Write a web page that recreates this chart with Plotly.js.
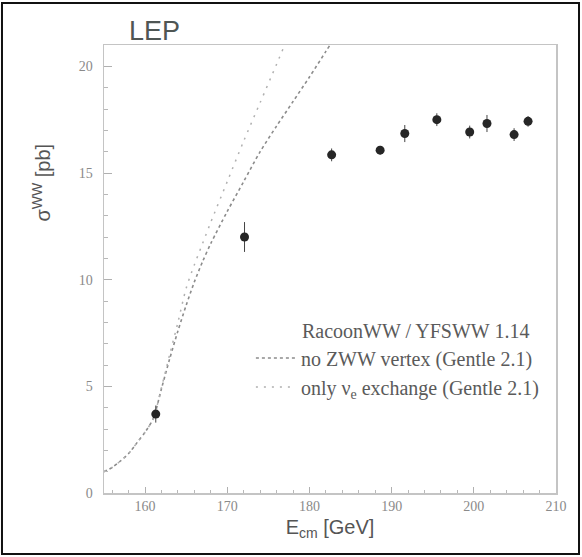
<!DOCTYPE html>
<html>
<head>
<meta charset="utf-8">
<script src="https://cdn.plot.ly/plotly-3.0.1.min.js"></script>
<style>html,body{margin:0;padding:0;background:#fff;}#chart{width:582px;height:557px;}</style>
</head>
<body>
<div id="chart"></div>
<script>
// LEP measured WW cross-section
const dataE     = [161.3, 172.1, 182.7, 188.6, 191.6, 195.5, 199.5, 201.6, 204.9, 206.6];
const dataSigma = [3.7, 12.0, 15.85, 16.07, 16.85, 17.5, 16.92, 17.32, 16.8, 17.42];
const dataErr   = [0.4, 0.7, 0.3, 0.2, 0.4, 0.3, 0.3, 0.4, 0.3, 0.25];

// Gentle 2.1: no ZWW vertex
const noZwwE     = [155, 156, 157, 158, 159, 160, 161, 162, 163, 164, 165, 166, 167, 168, 170, 172, 174, 176, 178, 180, 182, 183];
const noZwwSigma = [1.0, 1.2, 1.5, 1.85, 2.35, 2.85, 3.5, 4.9, 6.3, 7.6, 8.8, 9.9, 10.85, 11.7, 13.2, 14.6, 16.0, 17.2, 18.35, 19.5, 20.7, 21.3];

// Gentle 2.1: only nu_e exchange
const nuEE     = [155, 156, 157, 158, 159, 160, 161, 162, 163, 164, 165, 166, 167, 168, 170, 172, 174, 176, 177.2];
const nuESigma = [1.0, 1.2, 1.5, 1.85, 2.35, 2.85, 3.5, 4.95, 6.5, 8.0, 9.6, 10.7, 11.7, 12.7, 14.6, 16.5, 18.3, 20.1, 21.2];

// legend texts
const legendHeader = 'RacoonWW / YFSWW 1.14';
const nameNoZww = 'no ZWW vertex (Gentle 2.1)';
const nameNuE = 'only ν<sub>e</sub> exchange (Gentle 2.1)';

const xTickVals = [160, 170, 180, 190, 200, 210];
const yTickVals = [0, 5, 10, 15, 20];

const serif = '"Liberation Serif", "DejaVu Serif", serif';
const sans = '"Liberation Sans", Arial, sans-serif';

const traces = [
  {
    x: noZwwE, y: noZwwSigma, type: 'scatter', mode: 'lines',
    name: nameNoZww,
    line: {color: '#8c8c8c', width: 1.6, dash: 'dot', shape: 'spline', smoothing: 0.8}
  },
  {
    x: nuEE, y: nuESigma, type: 'scatter', mode: 'lines',
    name: nameNuE,
    line: {color: '#b0b0b0', width: 1.5, dash: '2px,6px', shape: 'spline', smoothing: 0.8}
  },
  {
    x: dataE, y: dataSigma, type: 'scatter', mode: 'markers',
    name: 'LEP', showlegend: false,
    marker: {color: '#262626', size: 9},
    error_y: {type: 'data', array: dataErr, visible: true, color: '#444', thickness: 1, width: 0}
  }
];

const axisCommon = {
  showgrid: false, zeroline: false,
  showline: true, linecolor: '#c4c4c4', linewidth: 1.5, mirror: true,
  ticks: 'inside', tickcolor: '#b0b0b0', tickwidth: 1,
  tickfont: {family: serif, size: 14, color: '#8a8a8a'}
};

const layout = {
  width: 582, height: 557,
  margin: {l: 104, r: 26, t: 45, b: 64},
  paper_bgcolor: '#ffffff', plot_bgcolor: '#ffffff',
  showlegend: true,
  legend: {
    x: 0.325, y: 0.345, xanchor: 'left', yanchor: 'top',
    bgcolor: 'rgba(0,0,0,0)', borderwidth: 0,
    itemwidth: 40,
    font: {family: serif, size: 20, color: '#5a5a5a'}
  },
  xaxis: Object.assign({}, axisCommon, {
    range: [155, 210], tickvals: xTickVals, ticklen: 6,
    minor: {dtick: 2, ticks: 'inside', ticklen: 3, tickcolor: '#b8b8b8'},
    ticklabelstandoff: 0,
    title: {text: 'E<sub>cm</sub> [GeV]', standoff: 6,
            font: {family: sans, size: 20, color: '#555'}}
  }),
  yaxis: Object.assign({}, axisCommon, {
    range: [0, 21], tickvals: yTickVals, ticklen: 8,
    minor: {dtick: 1, ticks: 'inside', ticklen: 4, tickcolor: '#b8b8b8'},
    ticklabelstandoff: 7
  }),
  annotations: [
    {text: 'LEP', xref: 'paper', yref: 'paper', x: 0.05, y: 1.031,
     xanchor: 'left', yanchor: 'middle', showarrow: false,
     font: {family: sans, size: 27, color: '#4f5654'}},
    {text: 'σ<sup>WW</sup> [pb]', xref: 'paper', yref: 'paper', x: -0.138, y: 0.692,
     xanchor: 'center', yanchor: 'middle', textangle: -90, showarrow: false,
     font: {family: sans, size: 20, color: '#555'}},
    {text: legendHeader, xref: 'paper', yref: 'paper', x: 0.4336, y: 0.3616,
     xanchor: 'left', yanchor: 'middle', showarrow: false,
     font: {family: serif, size: 20, color: '#5a5a5a'}}
  ],
  shapes: [
    {type: 'rect', xref: 'paper', yref: 'paper',
     x0: -0.2257, x1: 1.0509, y0: -0.1362, y1: 1.0938,
     line: {color: '#111', width: 2}, fillcolor: 'rgba(0,0,0,0)'}
  ]
};

Plotly.newPlot('chart', traces, layout, {displayModeBar: false, staticPlot: true});
</script>
</body>
</html>
